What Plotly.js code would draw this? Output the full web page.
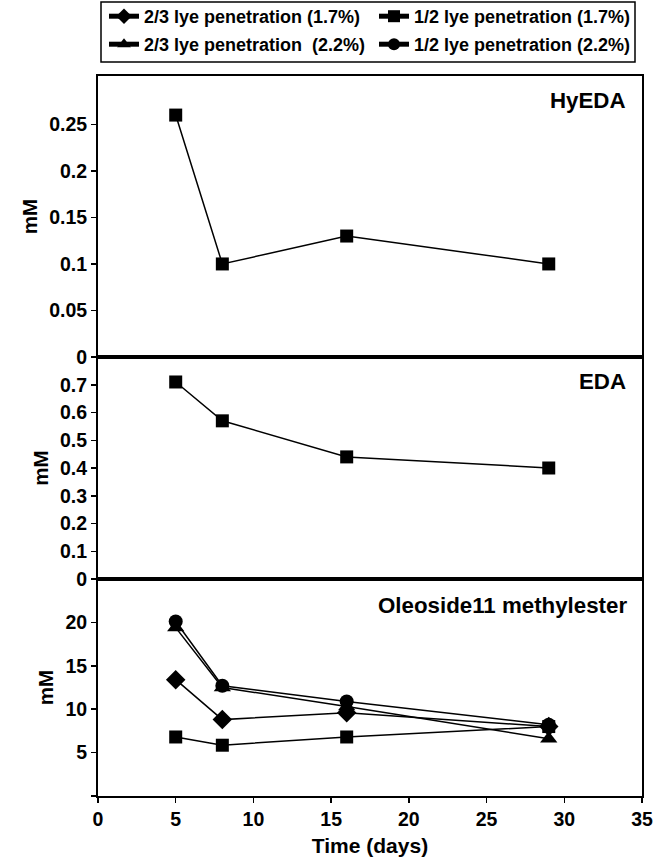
<!DOCTYPE html>
<html>
<head>
<meta charset="utf-8">
<script src="https://cdn.plot.ly/plotly-3.0.1.min.js"></script>
<style>html,body{margin:0;padding:0;background:#fff;}</style>
</head>
<body>
<div id="chart" style="width:669px;height:862px;"></div>
<script>
// Data
const days = [5, 8, 16, 29];
const hyedaHalf17 = [0.26, 0.10, 0.13, 0.10];
const edaHalf17 = [0.71, 0.57, 0.44, 0.40];
const oleoTwoThirds17 = [13.4, 8.8, 9.6, 8.0];
const oleoHalf17 = [6.8, 5.85, 6.8, 8.0];
const oleoTwoThirds22 = [19.4, 12.5, 10.3, 6.6];
const oleoHalf22 = [20.1, 12.7, 10.9, 8.2];
const seriesNames = [
  '2/3 lye penetration (1.7%)',
  '1/2 lye penetration (1.7%)',
  '2/3 lye penetration \u00a0(2.2%)',
  '1/2 lye penetration (2.2%)'
];
const panelTitles = ['HyEDA', 'EDA', 'Oleoside11 methylester'];

const FONT = 'Liberation Sans, Arial, sans-serif';
const line = {color: '#000', width: 1.5};
function tr(y, name, symbol, yaxis, show, size, leg) {
  return {
    x: days, y: y, name: name, type: 'scatter', mode: 'lines+markers',
    xaxis: yaxis === 'y' ? 'x' : 'x' + yaxis.slice(1), yaxis: yaxis,
    line: line, showlegend: show, cliponaxis: false, legend: leg || 'legend',
    marker: {symbol: symbol, size: size, color: '#000', line: {width: 0}}
  };
}
const data = [
  tr(oleoTwoThirds17, seriesNames[0], 'diamond', 'y3', true, 15, 'legend'),
  tr(oleoHalf17, seriesNames[1], 'square', 'y3', true, 13, 'legend'),
  tr(oleoTwoThirds22, seriesNames[2], 'triangle-up', 'y3', true, 15, 'legend2'),
  tr(oleoHalf22, seriesNames[3], 'circle', 'y3', true, 14, 'legend2'),
  tr(hyedaHalf17, seriesNames[1], 'square', 'y', false, 13),
  tr(edaHalf17, seriesNames[1], 'square', 'y2', false, 13)
];

const tickFont = {family: FONT, size: 19.5, color: '#000', weight: 'bold'};
const titleFont = {family: FONT, size: 20.5, color: '#000', weight: 'bold'};
const d3 = 217/720, d2 = 439/720;
function xax(anchor, labels) {
  return {
    anchor: anchor, range: [0, 35], showline: true, mirror: true, linecolor: '#000', linewidth: 2,
    showgrid: false, zeroline: false, matches: anchor === 'y3' ? undefined : 'x3',
    ticks: labels ? 'outside' : '', ticklen: 5, tickcolor: '#000', tickwidth: 1.5,
    dtick: 5, showticklabels: labels, tickfont: tickFont,
    title: labels ? {text: 'Time (days)', font: {family: FONT, size: 21, color: '#000', weight: 'bold'}, standoff: 9} : undefined
  };
}
function yax(domain, range, vals, text, anchor) {
  return {
    domain: domain, range: range, anchor: anchor, showline: true, mirror: true, linecolor: '#000', linewidth: 2,
    showgrid: false, zeroline: false, ticks: 'outside', ticklen: 5, tickcolor: '#000', tickwidth: 1.5,
    tickvals: vals, ticktext: text, tickfont: tickFont,
    title: {text: 'mM', font: titleFont, standoff: 6}
  };
}
const legFont = {family: FONT, size: 18, color: '#000', weight: 'bold'};
function leg(ypx) {
  return {
    orientation: 'h', x: 6/544, xanchor: 'left', y: 1 + (76 - ypx)/720, yanchor: 'top',
    borderwidth: 0, bgcolor: 'rgba(0,0,0,0)', font: legFont,
    entrywidth: 225, itemwidth: 30, itemsizing: 'constant'
  };
}
const panelFont = {family: FONT, size: 22.3, color: '#000', weight: 'bold'};
const layout = {
  width: 669, height: 862,
  margin: {l: 98, r: 27, t: 76, b: 66, autoexpand: false},
  paper_bgcolor: '#fff', plot_bgcolor: '#fff',
  font: {family: FONT, color: '#000'},
  xaxis: xax('y', false),
  xaxis2: xax('y2', false),
  xaxis3: xax('y3', true),
  yaxis: yax([d2, 1], [0, 0.302], [0, 0.05, 0.1, 0.15, 0.2, 0.25], ['0', '0.05', '0.1', '0.15', '0.2', '0.25'], 'x'),
  yaxis2: yax([d3, d2], [0, 0.8], [0, 0.1, 0.2, 0.3, 0.4, 0.5, 0.6, 0.7], ['0', '0.1', '0.2', '0.3', '0.4', '0.5', '0.6', '0.7'], 'x2'),
  yaxis3: yax([0, d3], [0, 25], [0, 5, 10, 15, 20], ['', '5', '10', '15', '20'], 'x3'),
  showlegend: true,
  legend: leg(-2),
  legend2: leg(26),
  shapes: [
    {type: 'rect', xref: 'paper', yref: 'paper', x0: 3/544, x1: 537/544, y0: 1 + (76 - 62)/720, y1: 1 + (76 - 2)/720,
     line: {color: '#000', width: 1.5}, fillcolor: 'rgba(0,0,0,0)'}
  ],
  annotations: [
    {text: panelTitles[0], xref: 'paper', yref: 'paper', x: 530/544, y: 1 - 24/720, xanchor: 'right', yanchor: 'middle', showarrow: false, font: panelFont},
    {text: panelTitles[1], xref: 'paper', yref: 'paper', x: 530/544, y: d2 - 25/720, xanchor: 'right', yanchor: 'middle', showarrow: false, font: panelFont},
    {text: panelTitles[2], xref: 'paper', yref: 'paper', x: 531/544, y: d3 - 26/720, xanchor: 'right', yanchor: 'middle', showarrow: false, font: panelFont}
  ]
};
Plotly.newPlot('chart', data, layout, {displayModeBar: false, staticPlot: true});
</script>
</body>
</html>
